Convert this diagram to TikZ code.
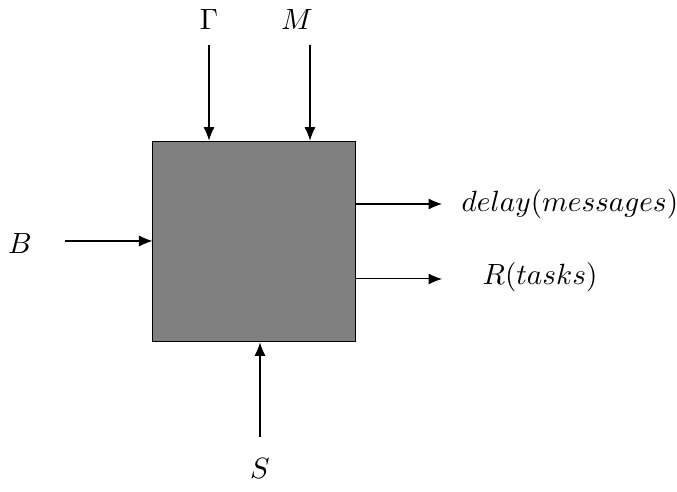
\documentclass[tikz,border=0pt]{standalone}
\usetikzlibrary{arrows.meta}
\begin{document}
\begin{tikzpicture}[x=0.3415pt,y=-0.3415pt,
  arr/.style={line width=0.35pt,-{Latex[length=4.6pt,width=3.8pt]}},
  blackbox/.style={draw=black,line width=0.35pt,fill={rgb,255:red,128;green,128;blue,128},minimum width=69pt,minimum height=68.6pt,inner sep=0pt},
  lbl/.style={inner sep=0pt}]
\useasboundingbox (0,0) rectangle (677,492);
\node[blackbox] (box) at (254,241.5) {};
\node[lbl] (gamma) at (209,20) {$\Gamma$};
\node[lbl] (m) at (297,20) {$M$};
\node[lbl] (b) at (20,244) {$B$};
\node[lbl] (delay) at (570,204) {$delay(messages)$};
\node[lbl] (r) at (540,277) {$R(tasks)$};
\node[lbl] (s) at (260,469) {$S$};
\coordinate (g0) at (209,45);
\coordinate (m0) at (310,45);
\coordinate (b0) at (65,241);
\coordinate (s0) at (260,437);
\coordinate (d1) at (442,204);
\coordinate (r1) at (442,279);
\draw[arr] (g0) -- (g0 |- box.north);
\draw[arr] (m0) -- (m0 |- box.north);
\draw[arr] (b0) -- (b0 -| box.west);
\draw[arr] (s0) -- (s0 |- box.south);
\draw[arr] (d1 -| box.east) -- (d1);
\draw[arr] (r1 -| box.east) -- (r1);
\end{tikzpicture}
\end{document}
